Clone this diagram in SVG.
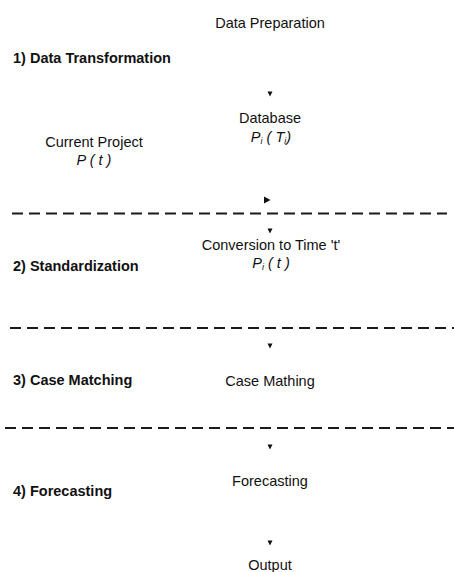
<svg xmlns="http://www.w3.org/2000/svg" width="454" height="572" viewBox="0 0 454 572">
<style>
text{font-family:"Liberation Sans",Arial,sans-serif;font-size:14.5px;fill:#111}
.c{text-anchor:middle}
.b{font-weight:bold}
.i{font-style:italic}
.sub{font-size:9px}
.dash{stroke:#1a1a1a;stroke-width:1.8;stroke-dasharray:11 6;fill:none}
.ah{fill:#111}
</style>
<defs>
<path id="down" d="M-2.5,-2.5 L2.5,-2.5 L0,2.5 Z"/>
<path id="right" d="M-3,-3.5 L3.5,0 L-3,3.5 Z"/>
</defs>
<g id="title"><text class="c" x="270" y="28">Data Preparation</text></g>
<g id="stage-labels">
<text class="b" x="13" y="63">1) Data Transformation</text>
<text class="b" x="13" y="271">2) Standardization</text>
<text class="b" x="13" y="385">3) Case Matching</text>
<text class="b" x="13" y="496">4) Forecasting</text>
</g>
<g id="separators">
<line class="dash" x1="12" y1="213.5" x2="447" y2="213.5"/>
<line class="dash" x1="10" y1="328" x2="454" y2="328"/>
<line class="dash" x1="5" y1="428" x2="454" y2="428"/>
</g>
<g id="database"><text class="c" x="270" y="123">Database</text><text class="c i" x="271" y="142">P<tspan class="sub" dy="2">i</tspan><tspan dy="-2">  ( T</tspan><tspan class="sub" dy="2">i</tspan><tspan dy="-2">)</tspan></text></g>
<g id="current-project"><text class="c" x="94" y="147">Current Project</text><text class="c i" x="94" y="165">P ( t )</text></g>
<g id="conversion"><text class="c" x="271" y="250">Conversion to Time 't'</text><text class="c i" x="271" y="268">P<tspan class="sub" dy="2">i</tspan><tspan dy="-2"> ( t )</tspan></text></g>
<g id="case-mathing"><text class="c" x="270" y="386">Case Mathing</text></g>
<g id="forecasting"><text class="c" x="270" y="486">Forecasting</text></g>
<g id="output"><text class="c" x="270" y="570">Output</text></g>
<g id="connectors">
<use href="#down" class="ah" x="270" y="94"/>
<use href="#right" class="ah" x="267" y="200"/>
<use href="#down" class="ah" x="270" y="231"/>
<use href="#down" class="ah" x="270" y="346"/>
<use href="#down" class="ah" x="270" y="447"/>
<use href="#down" class="ah" x="270" y="543"/>
</g>
</svg>
